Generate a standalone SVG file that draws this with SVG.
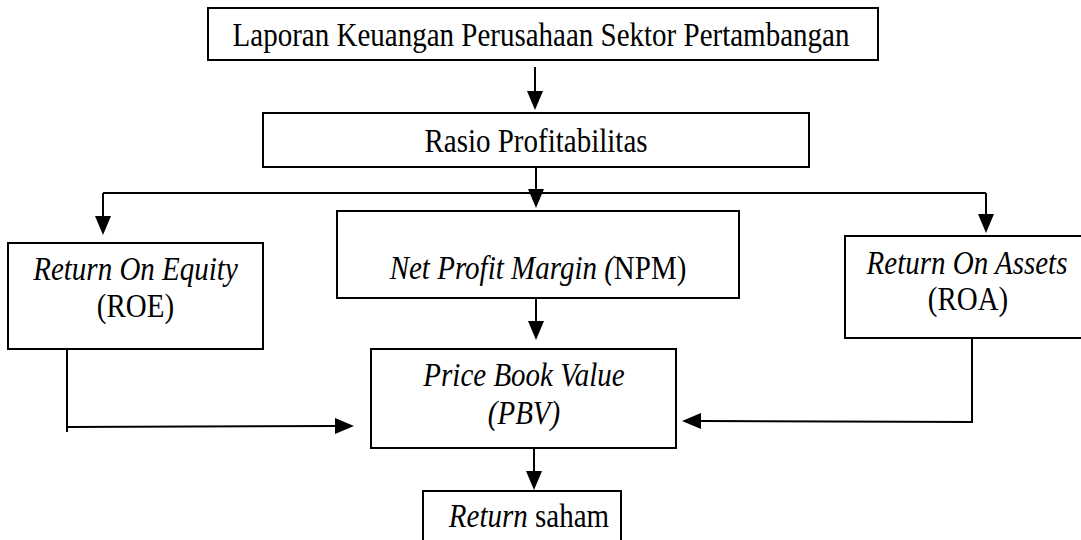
<svg xmlns="http://www.w3.org/2000/svg" width="1081" height="540" viewBox="0 0 1081 540">
<style>
.box{fill:#fff;stroke:#000;stroke-width:2}
.t{font-family:'Liberation Serif','Times New Roman',serif;font-size:29px;fill:#000;text-anchor:middle}
.i{font-style:italic}
.c{fill:none;stroke:#000;stroke-width:2}
</style>
<defs>
<marker id="ah" markerUnits="userSpaceOnUse" markerWidth="20" markerHeight="16" refX="0" refY="8" orient="auto">
<path d="M0,0 L19,8 L0,16 z" fill="#000"/>
</marker>
</defs>
<rect width="1081" height="540" fill="#fff"/>
<g id="connectors">
<path class="c" d="M535,67 V91" marker-end="url(#ah)"/>
<path class="c" d="M536,167 V189" marker-end="url(#ah)"/>
<path class="c" d="M103,193 H986"/>
<path class="c" d="M103,193 V216" marker-end="url(#ah)"/>
<path class="c" d="M986,193 V214" marker-end="url(#ah)"/>
<path class="c" d="M536,298 V321" marker-end="url(#ah)"/>
<path class="c" d="M67,349 V432"/>
<path class="c" d="M67,427 L335,426" marker-end="url(#ah)"/>
<path class="c" d="M972,338 V422 L701,421" marker-end="url(#ah)"/>
<path class="c" d="M534,448 V471" marker-end="url(#ah)"/>
</g>
<g id="n1">
<rect class="box" x="208" y="8" width="670" height="52"/>
<text class="t" transform="translate(541,46) scale(1,1.15)">Laporan Keuangan Perusahaan Sektor Pertambangan</text>
</g>
<g id="n2">
<rect class="box" x="263" y="113" width="546" height="54"/>
<text class="t" transform="translate(536,152) scale(1,1.15)">Rasio Profitabilitas</text>
</g>
<g id="n3">
<rect class="box" x="8" y="243" width="255" height="106"/>
<text class="t i" transform="translate(135.5,280) scale(1,1.15)">Return On Equity</text>
<text class="t" transform="translate(135.5,317) scale(1,1.15)">(ROE)</text>
</g>
<g id="n4">
<rect class="box" x="337" y="211" width="402" height="87"/>
<text class="t" transform="translate(538,279) scale(1,1.15)"><tspan class="i">Net Profit Margin (</tspan>NPM)</text>
</g>
<g id="n5">
<rect class="box" x="845" y="236" width="240" height="102"/>
<text class="t i" transform="translate(967,274) scale(1,1.15)">Return On Assets</text>
<text class="t" transform="translate(968,310) scale(1,1.15)">(ROA)</text>
</g>
<g id="n6">
<rect class="box" x="371" y="349" width="305" height="99"/>
<text class="t i" transform="translate(524,386) scale(1,1.15)">Price Book Value</text>
<text class="t i" transform="translate(524,424) scale(1,1.15)">(PBV)</text>
</g>
<g id="n7">
<rect class="box" x="423" y="491" width="198" height="60"/>
<text class="t" transform="translate(529,527) scale(1,1.15)"><tspan class="i">Return</tspan> saham</text>
</g>
</svg>
